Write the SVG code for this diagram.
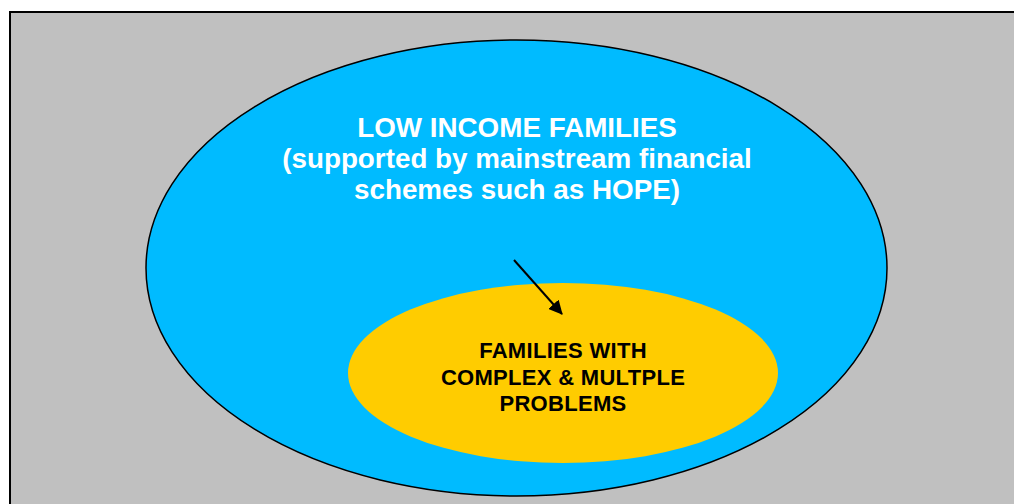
<svg xmlns="http://www.w3.org/2000/svg" width="1014" height="504" viewBox="0 0 1014 504">
<style>
.t1{font-family:"Liberation Sans",Arial,sans-serif;font-weight:bold;font-size:27.8px;fill:#ffffff;text-anchor:middle}
.t2{font-family:"Liberation Sans",Arial,sans-serif;font-weight:bold;font-size:22px;letter-spacing:0.3px;fill:#000000;text-anchor:middle}
</style>
<defs>
<marker id="ah" markerWidth="14" markerHeight="14" refX="13" refY="7" orient="auto" markerUnits="userSpaceOnUse" viewBox="0 0 14 14">
<path d="M0,0 L14,7 L0,14 z" fill="#000"/>
</marker>
</defs>
<rect x="10" y="12" width="1020" height="510" fill="#C0C0C0" stroke="#000" stroke-width="2"/>
<g id="low-income">
<ellipse cx="516.5" cy="268" rx="370.5" ry="228" fill="#00BBFF" stroke="#000" stroke-width="1.5"/>
<text class="t1" x="517" y="137">LOW INCOME FAMILIES</text>
<text class="t1" x="517" y="168">(supported by mainstream financial</text>
<text class="t1" x="517" y="199">schemes such as HOPE)</text>
</g>
<g id="complex">
<ellipse cx="563" cy="373" rx="215" ry="90" fill="#FFCC00"/>
<text class="t2" x="563" y="358">FAMILIES WITH</text>
<text class="t2" x="563" y="384.5">COMPLEX &amp; MULTPLE</text>
<text class="t2" x="563" y="411">PROBLEMS</text>
</g>
<g id="connectors">
<line x1="514" y1="260" x2="562" y2="314" stroke="#000" stroke-width="2" marker-end="url(#ah)"/>
</g>
</svg>
